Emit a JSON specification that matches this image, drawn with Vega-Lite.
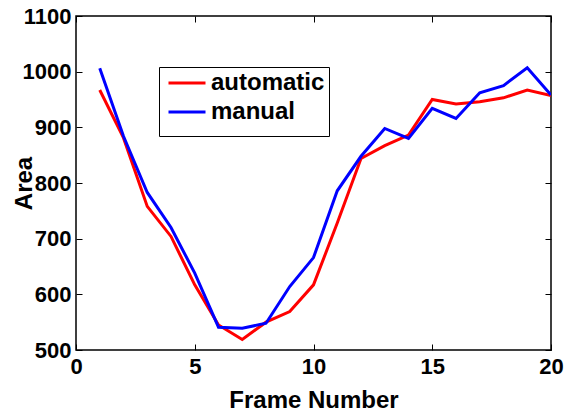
{
  "$schema": "https://vega.github.io/schema/vega-lite/v6.json",
  "width": 475,
  "height": 334,
  "autosize": {"type": "none"},
  "padding": {"left": 76, "top": 16, "right": 17, "bottom": 66},
  "background": "white",
  "config": {
    "font": "Liberation Sans",
    "view": {"stroke": "black", "strokeWidth": 1.5},
    "axis": {
      "grid": false,
      "domain": false,
      "tickColor": "black",
      "tickWidth": 1,
      "tickSize": -6,
      "labelFlush": false,
      "labelColor": "black",
      "labelFont": "Liberation Sans",
      "labelFontSize": 22,
      "labelFontWeight": "bold",
      "titleColor": "black",
      "titleFont": "Liberation Sans",
      "titleFontSize": 24,
      "titleFontWeight": "bold"
    }
  },
  "data": {
    "values": [
      {"frame": 1, "area": 967, "series": "automatic"},
      {"frame": 2, "area": 881, "series": "automatic"},
      {"frame": 3, "area": 758, "series": "automatic"},
      {"frame": 4, "area": 704, "series": "automatic"},
      {"frame": 5, "area": 617, "series": "automatic"},
      {"frame": 6, "area": 545, "series": "automatic"},
      {"frame": 7, "area": 519, "series": "automatic"},
      {"frame": 8, "area": 550, "series": "automatic"},
      {"frame": 9, "area": 569, "series": "automatic"},
      {"frame": 10, "area": 617, "series": "automatic"},
      {"frame": 11, "area": 728, "series": "automatic"},
      {"frame": 12, "area": 844, "series": "automatic"},
      {"frame": 13, "area": 867, "series": "automatic"},
      {"frame": 14, "area": 886, "series": "automatic"},
      {"frame": 15, "area": 950, "series": "automatic"},
      {"frame": 16, "area": 942, "series": "automatic"},
      {"frame": 17, "area": 946, "series": "automatic"},
      {"frame": 18, "area": 953, "series": "automatic"},
      {"frame": 19, "area": 967, "series": "automatic"},
      {"frame": 20, "area": 957, "series": "automatic"},
      {"frame": 1, "area": 1006, "series": "manual"},
      {"frame": 2, "area": 884, "series": "manual"},
      {"frame": 3, "area": 783, "series": "manual"},
      {"frame": 4, "area": 720, "series": "manual"},
      {"frame": 5, "area": 638, "series": "manual"},
      {"frame": 6, "area": 541, "series": "manual"},
      {"frame": 7, "area": 539, "series": "manual"},
      {"frame": 8, "area": 548, "series": "manual"},
      {"frame": 9, "area": 614, "series": "manual"},
      {"frame": 10, "area": 666, "series": "manual"},
      {"frame": 11, "area": 786, "series": "manual"},
      {"frame": 12, "area": 848, "series": "manual"},
      {"frame": 13, "area": 898, "series": "manual"},
      {"frame": 14, "area": 880, "series": "manual"},
      {"frame": 15, "area": 934, "series": "manual"},
      {"frame": 16, "area": 916, "series": "manual"},
      {"frame": 17, "area": 962, "series": "manual"},
      {"frame": 18, "area": 975, "series": "manual"},
      {"frame": 19, "area": 1007, "series": "manual"},
      {"frame": 20, "area": 958, "series": "manual"}
    ]
  },
  "layer": [
    {
      "mark": {"type": "line", "strokeWidth": 3, "clip": true},
      "encoding": {
        "x": {
          "field": "frame",
          "type": "quantitative",
          "scale": {"domain": [0, 20], "nice": false, "zero": false},
          "axis": {
            "orient": "bottom",
            "values": [0, 5, 10, 15, 20],
            "format": "d",
            "labelFlush": false,
            "labelPadding": 12,
            "title": "Frame Number",
            "titleBaseline": "alphabetic",
            "titleY": 57
          }
        },
        "y": {
          "field": "area",
          "type": "quantitative",
          "scale": {"domain": [500, 1100], "nice": false, "zero": false},
          "axis": {
            "orient": "left",
            "values": [500, 600, 700, 800, 900, 1000, 1100],
            "format": "d",
            "labelFlush": false,
            "labelPadding": 11,
            "title": "Area",
            "titleX": -40,
            "titleY": 167
          }
        },
        "color": {
          "field": "series",
          "type": "nominal",
          "scale": {"domain": ["automatic", "manual"], "range": ["#ff0000", "#0000ff"]},
          "legend": {
            "orient": "none",
            "legendX": 83,
            "legendY": 51,
            "title": " ",
            "titleOrient": "bottom",
            "titleFontSize": 6,
            "titlePadding": 2,
            "strokeColor": "black",
            "fillColor": "white",
            "padding": 4,
            "symbolOffset": 4,
            "clipHeight": 24,
            "symbolType": "stroke",
            "symbolStrokeWidth": 3,
            "symbolSize": 1369,
            "labelFont": "Liberation Sans",
            "labelFontSize": 24,
            "labelFontWeight": "bold",
            "labelColor": "black",
            "labelOffset": 4,
            "rowPadding": 5
          }
        }
      }
    },
    {
      "mark": {"type": "line", "opacity": 0},
      "encoding": {
        "x": {
          "field": "frame",
          "type": "quantitative",
          "axis": {"orient": "top", "values": [0, 5, 10, 15, 20], "labels": false, "title": null}
        },
        "y": {
          "field": "area",
          "type": "quantitative",
          "axis": {"orient": "right", "values": [500, 600, 700, 800, 900, 1000, 1100], "labels": false, "title": null}
        },
        "detail": {"field": "series"}
      }
    }
  ],
  "resolve": {"axis": {"x": "independent", "y": "independent"}}
}
